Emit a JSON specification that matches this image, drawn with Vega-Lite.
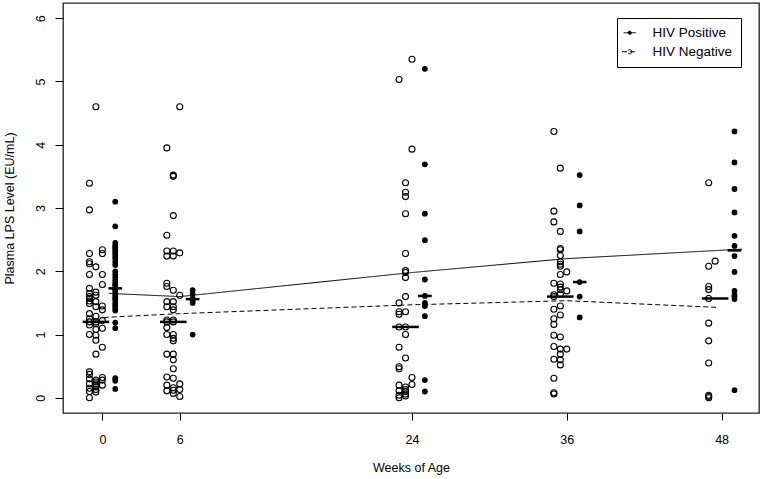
{
  "$schema": "https://vega.github.io/schema/vega-lite/v6.json",
  "width": 696,
  "height": 410,
  "autosize": {"type": "none"},
  "padding": {"left": 63, "top": 3, "right": 4, "bottom": 66},
  "config": {
    "font": "Liberation Sans",
    "view": {"stroke": "#222", "strokeWidth": 1.3},
    "axis": {"grid": false, "domain": false, "tickColor": "#000", "tickWidth": 1, "labelColor": "#000", "titleColor": "#000", "labelFontSize": 12.5, "titleFontSize": 12.5, "titleFontWeight": "normal", "labelFont": "Liberation Sans", "titleFont": "Liberation Sans"}
  },
  "datasets": {
    "pts": [
      {"x": -1, "y": 3.39, "g": "HIV Negative"}, {"x": -1, "y": 2.97, "g": "HIV Negative"}, {"x": -1, "y": 2.28, "g": "HIV Negative"}, {"x": -1, "y": 2.15, "g": "HIV Negative"}, {"x": -1, "y": 2.12, "g": "HIV Negative"}, {"x": -1, "y": 1.95, "g": "HIV Negative"}, {"x": -1, "y": 1.73, "g": "HIV Negative"}, {"x": -1, "y": 1.65, "g": "HIV Negative"}, {"x": -1, "y": 1.6, "g": "HIV Negative"}, {"x": -1, "y": 1.57, "g": "HIV Negative"}, {"x": -1, "y": 1.53, "g": "HIV Negative"}, {"x": -1, "y": 1.49, "g": "HIV Negative"}, {"x": -1, "y": 1.33, "g": "HIV Negative"}, {"x": -1, "y": 1.25, "g": "HIV Negative"}, {"x": -1, "y": 1.2, "g": "HIV Negative"}, {"x": -1, "y": 1.15, "g": "HIV Negative"}, {"x": -1, "y": 1.0, "g": "HIV Negative"}, {"x": -1, "y": 0.41, "g": "HIV Negative"}, {"x": -1, "y": 0.37, "g": "HIV Negative"}, {"x": -1, "y": 0.3, "g": "HIV Negative"}, {"x": -1, "y": 0.22, "g": "HIV Negative"}, {"x": -1, "y": 0.15, "g": "HIV Negative"}, {"x": -1, "y": 0.1, "g": "HIV Negative"}, {"x": -1, "y": 0.0, "g": "HIV Negative"},
      {"x": -0.5, "y": 4.6, "g": "HIV Negative"}, {"x": -0.5, "y": 2.07, "g": "HIV Negative"}, {"x": -0.5, "y": 1.67, "g": "HIV Negative"}, {"x": -0.5, "y": 1.62, "g": "HIV Negative"}, {"x": -0.5, "y": 1.52, "g": "HIV Negative"}, {"x": -0.5, "y": 1.44, "g": "HIV Negative"}, {"x": -0.5, "y": 1.29, "g": "HIV Negative"}, {"x": -0.5, "y": 1.2, "g": "HIV Negative"}, {"x": -0.5, "y": 1.17, "g": "HIV Negative"}, {"x": -0.5, "y": 1.08, "g": "HIV Negative"}, {"x": -0.5, "y": 0.99, "g": "HIV Negative"}, {"x": -0.5, "y": 0.91, "g": "HIV Negative"}, {"x": -0.5, "y": 0.69, "g": "HIV Negative"}, {"x": -0.5, "y": 0.28, "g": "HIV Negative"}, {"x": -0.5, "y": 0.25, "g": "HIV Negative"}, {"x": -0.5, "y": 0.22, "g": "HIV Negative"}, {"x": -0.5, "y": 0.19, "g": "HIV Negative"}, {"x": -0.5, "y": 0.17, "g": "HIV Negative"}, {"x": -0.5, "y": 0.13, "g": "HIV Negative"}, {"x": -0.5, "y": 0.09, "g": "HIV Negative"},
      {"x": 0, "y": 2.34, "g": "HIV Negative"}, {"x": 0, "y": 2.28, "g": "HIV Negative"}, {"x": 0, "y": 1.95, "g": "HIV Negative"}, {"x": 0, "y": 1.79, "g": "HIV Negative"}, {"x": 0, "y": 1.45, "g": "HIV Negative"}, {"x": 0, "y": 1.39, "g": "HIV Negative"}, {"x": 0, "y": 1.22, "g": "HIV Negative"}, {"x": 0, "y": 1.1, "g": "HIV Negative"}, {"x": 0, "y": 0.8, "g": "HIV Negative"}, {"x": 0, "y": 0.32, "g": "HIV Negative"}, {"x": 0, "y": 0.28, "g": "HIV Negative"}, {"x": 0, "y": 0.2, "g": "HIV Negative"},
      {"x": 5, "y": 3.95, "g": "HIV Negative"}, {"x": 5, "y": 2.57, "g": "HIV Negative"}, {"x": 5, "y": 2.32, "g": "HIV Negative"}, {"x": 5, "y": 2.24, "g": "HIV Negative"}, {"x": 5, "y": 1.81, "g": "HIV Negative"}, {"x": 5, "y": 1.76, "g": "HIV Negative"}, {"x": 5, "y": 1.52, "g": "HIV Negative"}, {"x": 5, "y": 1.44, "g": "HIV Negative"}, {"x": 5, "y": 1.23, "g": "HIV Negative"}, {"x": 5, "y": 1.2, "g": "HIV Negative"}, {"x": 5, "y": 1.11, "g": "HIV Negative"}, {"x": 5, "y": 1.0, "g": "HIV Negative"}, {"x": 5, "y": 0.69, "g": "HIV Negative"}, {"x": 5, "y": 0.33, "g": "HIV Negative"}, {"x": 5, "y": 0.2, "g": "HIV Negative"}, {"x": 5, "y": 0.11, "g": "HIV Negative"},
      {"x": 5.5, "y": 3.52, "g": "HIV Negative"}, {"x": 5.5, "y": 3.5, "g": "HIV Negative"}, {"x": 5.5, "y": 2.88, "g": "HIV Negative"}, {"x": 5.5, "y": 2.32, "g": "HIV Negative"}, {"x": 5.5, "y": 2.24, "g": "HIV Negative"}, {"x": 5.5, "y": 1.7, "g": "HIV Negative"}, {"x": 5.5, "y": 1.52, "g": "HIV Negative"}, {"x": 5.5, "y": 1.44, "g": "HIV Negative"}, {"x": 5.5, "y": 1.39, "g": "HIV Negative"}, {"x": 5.5, "y": 1.23, "g": "HIV Negative"}, {"x": 5.5, "y": 1.2, "g": "HIV Negative"}, {"x": 5.5, "y": 1.0, "g": "HIV Negative"}, {"x": 5.5, "y": 0.94, "g": "HIV Negative"}, {"x": 5.5, "y": 0.9, "g": "HIV Negative"}, {"x": 5.5, "y": 0.69, "g": "HIV Negative"}, {"x": 5.5, "y": 0.6, "g": "HIV Negative"}, {"x": 5.5, "y": 0.46, "g": "HIV Negative"}, {"x": 5.5, "y": 0.31, "g": "HIV Negative"}, {"x": 5.5, "y": 0.16, "g": "HIV Negative"}, {"x": 5.5, "y": 0.12, "g": "HIV Negative"}, {"x": 5.5, "y": 0.07, "g": "HIV Negative"},
      {"x": 6, "y": 4.6, "g": "HIV Negative"}, {"x": 6, "y": 2.29, "g": "HIV Negative"}, {"x": 6, "y": 1.62, "g": "HIV Negative"}, {"x": 6, "y": 0.22, "g": "HIV Negative"}, {"x": 6, "y": 0.13, "g": "HIV Negative"}, {"x": 6, "y": 0.02, "g": "HIV Negative"},
      {"x": 23, "y": 5.03, "g": "HIV Negative"}, {"x": 23, "y": 1.5, "g": "HIV Negative"}, {"x": 23, "y": 1.36, "g": "HIV Negative"}, {"x": 23, "y": 1.32, "g": "HIV Negative"}, {"x": 23, "y": 1.12, "g": "HIV Negative"}, {"x": 23, "y": 0.8, "g": "HIV Negative"}, {"x": 23, "y": 0.49, "g": "HIV Negative"}, {"x": 23, "y": 0.46, "g": "HIV Negative"}, {"x": 23, "y": 0.2, "g": "HIV Negative"}, {"x": 23, "y": 0.11, "g": "HIV Negative"}, {"x": 23, "y": 0.04, "g": "HIV Negative"}, {"x": 23, "y": 0.0, "g": "HIV Negative"},
      {"x": 23.5, "y": 3.4, "g": "HIV Negative"}, {"x": 23.5, "y": 3.25, "g": "HIV Negative"}, {"x": 23.5, "y": 3.18, "g": "HIV Negative"}, {"x": 23.5, "y": 2.91, "g": "HIV Negative"}, {"x": 23.5, "y": 2.28, "g": "HIV Negative"}, {"x": 23.5, "y": 2.01, "g": "HIV Negative"}, {"x": 23.5, "y": 1.98, "g": "HIV Negative"}, {"x": 23.5, "y": 1.9, "g": "HIV Negative"}, {"x": 23.5, "y": 1.6, "g": "HIV Negative"}, {"x": 23.5, "y": 1.36, "g": "HIV Negative"}, {"x": 23.5, "y": 1.12, "g": "HIV Negative"}, {"x": 23.5, "y": 1.0, "g": "HIV Negative"}, {"x": 23.5, "y": 0.63, "g": "HIV Negative"}, {"x": 23.5, "y": 0.17, "g": "HIV Negative"}, {"x": 23.5, "y": 0.13, "g": "HIV Negative"}, {"x": 23.5, "y": 0.1, "g": "HIV Negative"}, {"x": 23.5, "y": 0.06, "g": "HIV Negative"}, {"x": 23.5, "y": 0.03, "g": "HIV Negative"},
      {"x": 24, "y": 5.35, "g": "HIV Negative"}, {"x": 24, "y": 3.93, "g": "HIV Negative"}, {"x": 24, "y": 0.32, "g": "HIV Negative"}, {"x": 24, "y": 0.21, "g": "HIV Negative"},
      {"x": 35, "y": 4.21, "g": "HIV Negative"}, {"x": 35, "y": 2.95, "g": "HIV Negative"}, {"x": 35, "y": 2.78, "g": "HIV Negative"}, {"x": 35, "y": 1.81, "g": "HIV Negative"}, {"x": 35, "y": 1.63, "g": "HIV Negative"}, {"x": 35, "y": 1.6, "g": "HIV Negative"}, {"x": 35, "y": 1.4, "g": "HIV Negative"}, {"x": 35, "y": 1.25, "g": "HIV Negative"}, {"x": 35, "y": 1.16, "g": "HIV Negative"}, {"x": 35, "y": 0.99, "g": "HIV Negative"}, {"x": 35, "y": 0.81, "g": "HIV Negative"}, {"x": 35, "y": 0.61, "g": "HIV Negative"}, {"x": 35, "y": 0.31, "g": "HIV Negative"}, {"x": 35, "y": 0.08, "g": "HIV Negative"}, {"x": 35, "y": 0.06, "g": "HIV Negative"},
      {"x": 35.5, "y": 3.63, "g": "HIV Negative"}, {"x": 35.5, "y": 2.63, "g": "HIV Negative"}, {"x": 35.5, "y": 2.36, "g": "HIV Negative"}, {"x": 35.5, "y": 2.34, "g": "HIV Negative"}, {"x": 35.5, "y": 2.25, "g": "HIV Negative"}, {"x": 35.5, "y": 2.15, "g": "HIV Negative"}, {"x": 35.5, "y": 2.11, "g": "HIV Negative"}, {"x": 35.5, "y": 2.08, "g": "HIV Negative"}, {"x": 35.5, "y": 1.95, "g": "HIV Negative"}, {"x": 35.5, "y": 1.8, "g": "HIV Negative"}, {"x": 35.5, "y": 1.75, "g": "HIV Negative"}, {"x": 35.5, "y": 1.71, "g": "HIV Negative"}, {"x": 35.5, "y": 1.64, "g": "HIV Negative"}, {"x": 35.5, "y": 1.45, "g": "HIV Negative"}, {"x": 35.5, "y": 1.31, "g": "HIV Negative"}, {"x": 35.5, "y": 0.96, "g": "HIV Negative"}, {"x": 35.5, "y": 0.77, "g": "HIV Negative"}, {"x": 35.5, "y": 0.69, "g": "HIV Negative"}, {"x": 35.5, "y": 0.6, "g": "HIV Negative"}, {"x": 35.5, "y": 0.52, "g": "HIV Negative"},
      {"x": 36, "y": 1.99, "g": "HIV Negative"}, {"x": 36, "y": 1.69, "g": "HIV Negative"}, {"x": 36, "y": 0.77, "g": "HIV Negative"},
      {"x": 47, "y": 3.4, "g": "HIV Negative"}, {"x": 47, "y": 2.08, "g": "HIV Negative"}, {"x": 47, "y": 1.76, "g": "HIV Negative"}, {"x": 47, "y": 1.71, "g": "HIV Negative"}, {"x": 47, "y": 1.57, "g": "HIV Negative"}, {"x": 47, "y": 1.18, "g": "HIV Negative"}, {"x": 47, "y": 0.9, "g": "HIV Negative"}, {"x": 47, "y": 0.55, "g": "HIV Negative"}, {"x": 47, "y": 0.04, "g": "HIV Negative"}, {"x": 47, "y": 0.02, "g": "HIV Negative"}, {"x": 47, "y": 0.0, "g": "HIV Negative"},
      {"x": 47.5, "y": 2.16, "g": "HIV Negative"},
      {"x": 1, "y": 3.1, "g": "HIV Positive"}, {"x": 1, "y": 2.71, "g": "HIV Positive"}, {"x": 1, "y": 2.45, "g": "HIV Positive"}, {"x": 1, "y": 2.41, "g": "HIV Positive"}, {"x": 1, "y": 2.38, "g": "HIV Positive"}, {"x": 1, "y": 2.35, "g": "HIV Positive"}, {"x": 1, "y": 2.31, "g": "HIV Positive"}, {"x": 1, "y": 2.28, "g": "HIV Positive"}, {"x": 1, "y": 2.24, "g": "HIV Positive"}, {"x": 1, "y": 2.2, "g": "HIV Positive"}, {"x": 1, "y": 2.15, "g": "HIV Positive"}, {"x": 1, "y": 2.1, "g": "HIV Positive"}, {"x": 1, "y": 2.0, "g": "HIV Positive"}, {"x": 1, "y": 1.95, "g": "HIV Positive"}, {"x": 1, "y": 1.9, "g": "HIV Positive"}, {"x": 1, "y": 1.85, "g": "HIV Positive"}, {"x": 1, "y": 1.8, "g": "HIV Positive"}, {"x": 1, "y": 1.78, "g": "HIV Positive"}, {"x": 1, "y": 1.73, "g": "HIV Positive"}, {"x": 1, "y": 1.7, "g": "HIV Positive"}, {"x": 1, "y": 1.66, "g": "HIV Positive"}, {"x": 1, "y": 1.62, "g": "HIV Positive"}, {"x": 1, "y": 1.58, "g": "HIV Positive"}, {"x": 1, "y": 1.55, "g": "HIV Positive"}, {"x": 1, "y": 1.5, "g": "HIV Positive"}, {"x": 1, "y": 1.46, "g": "HIV Positive"}, {"x": 1, "y": 1.42, "g": "HIV Positive"}, {"x": 1, "y": 1.38, "g": "HIV Positive"}, {"x": 1, "y": 1.19, "g": "HIV Positive"}, {"x": 1, "y": 1.1, "g": "HIV Positive"}, {"x": 1, "y": 0.31, "g": "HIV Positive"}, {"x": 1, "y": 0.27, "g": "HIV Positive"}, {"x": 1, "y": 0.14, "g": "HIV Positive"},
      {"x": 7, "y": 1.7, "g": "HIV Positive"}, {"x": 7, "y": 1.64, "g": "HIV Positive"}, {"x": 7, "y": 1.57, "g": "HIV Positive"}, {"x": 7, "y": 1.53, "g": "HIV Positive"}, {"x": 7, "y": 1.5, "g": "HIV Positive"}, {"x": 7, "y": 1.0, "g": "HIV Positive"},
      {"x": 25, "y": 5.2, "g": "HIV Positive"}, {"x": 25, "y": 3.69, "g": "HIV Positive"}, {"x": 25, "y": 2.91, "g": "HIV Positive"}, {"x": 25, "y": 2.49, "g": "HIV Positive"}, {"x": 25, "y": 1.87, "g": "HIV Positive"}, {"x": 25, "y": 1.61, "g": "HIV Positive"}, {"x": 25, "y": 1.5, "g": "HIV Positive"}, {"x": 25, "y": 1.45, "g": "HIV Positive"}, {"x": 25, "y": 1.29, "g": "HIV Positive"}, {"x": 25, "y": 0.28, "g": "HIV Positive"}, {"x": 25, "y": 0.1, "g": "HIV Positive"},
      {"x": 37, "y": 3.52, "g": "HIV Positive"}, {"x": 37, "y": 3.04, "g": "HIV Positive"}, {"x": 37, "y": 2.63, "g": "HIV Positive"}, {"x": 37, "y": 1.83, "g": "HIV Positive"}, {"x": 37, "y": 1.6, "g": "HIV Positive"}, {"x": 37, "y": 1.27, "g": "HIV Positive"},
      {"x": 49, "y": 4.21, "g": "HIV Positive"}, {"x": 49, "y": 3.72, "g": "HIV Positive"}, {"x": 49, "y": 3.3, "g": "HIV Positive"}, {"x": 49, "y": 2.93, "g": "HIV Positive"}, {"x": 49, "y": 2.56, "g": "HIV Positive"}, {"x": 49, "y": 2.4, "g": "HIV Positive"}, {"x": 49, "y": 2.24, "g": "HIV Positive"}, {"x": 49, "y": 1.99, "g": "HIV Positive"}, {"x": 49, "y": 1.69, "g": "HIV Positive"}, {"x": 49, "y": 1.62, "g": "HIV Positive"}, {"x": 49, "y": 1.6, "g": "HIV Positive"}, {"x": 49, "y": 1.56, "g": "HIV Positive"}, {"x": 49, "y": 0.12, "g": "HIV Positive"}
    ],
    "med": [
      {"x": -1.53, "x2": 0.53, "y": 1.2, "g": "HIV Negative"},
      {"x": 4.47, "x2": 6.53, "y": 1.2, "g": "HIV Negative"},
      {"x": 22.47, "x2": 24.53, "y": 1.12, "g": "HIV Negative"},
      {"x": 34.47, "x2": 36.53, "y": 1.6, "g": "HIV Negative"},
      {"x": 46.47, "x2": 48.53, "y": 1.57, "g": "HIV Negative"},
      {"x": 0.47, "x2": 1.53, "y": 1.73, "g": "HIV Positive"},
      {"x": 6.47, "x2": 7.53, "y": 1.56, "g": "HIV Positive"},
      {"x": 24.47, "x2": 25.53, "y": 1.61, "g": "HIV Positive"},
      {"x": 36.47, "x2": 37.53, "y": 1.83, "g": "HIV Positive"},
      {"x": 48.47, "x2": 49.53, "y": 2.33, "g": "HIV Positive"}
    ],
    "fit": [
      {"x": 0.5, "y": 1.65, "g": "HIV Positive"},
      {"x": 6, "y": 1.6, "g": "HIV Positive"},
      {"x": 24, "y": 1.98, "g": "HIV Positive"},
      {"x": 36, "y": 2.2, "g": "HIV Positive"},
      {"x": 49.6, "y": 2.35, "g": "HIV Positive"},
      {"x": 0.1, "y": 1.27, "g": "HIV Negative"},
      {"x": 6, "y": 1.33, "g": "HIV Negative"},
      {"x": 24, "y": 1.47, "g": "HIV Negative"},
      {"x": 36, "y": 1.535, "g": "HIV Negative"},
      {"x": 47.6, "y": 1.43, "g": "HIV Negative"}
    ]
  },
  "encoding": {
    "x": {"field": "x", "type": "quantitative", "scale": {"domain": [-3.05, 50.9], "nice": false, "zero": false},
          "axis": {"title": "Weeks of Age", "values": [0, 6, 24, 36, 48], "tickSize": 7, "labelPadding": 13, "titlePadding": 16, "labelAngle": 0}},
    "y": {"field": "y", "type": "quantitative", "scale": {"domain": [-0.24, 6.24], "nice": false, "zero": false},
          "axis": {"title": "Plasma LPS Level (EU/mL)", "values": [0, 1, 2, 3, 4, 5, 6], "tickSize": 8, "labelAngle": 270, "labelAlign": "center", "labelBaseline": "bottom", "labelPadding": 8, "titlePadding": 18}}
  },
  "layer": [
    {
      "data": {"name": "fit"},
      "mark": {"type": "line", "stroke": "#000", "strokeWidth": 1},
      "encoding": {
        "strokeDash": {"field": "g", "type": "nominal",
          "scale": {"domain": ["HIV Positive", "HIV Negative"], "range": [[1, 0], [5, 3]]},
          "legend": {"title": null, "orient": "none", "legendX": 554, "legendY": 15, "symbolType": "M-2.6,0H2.6M0.7,0A0.7,0.7 0 1,1 -0.7,0A0.7,0.7 0 1,1 0.7,0", "symbolSize": 100, "symbolStrokeColor": "#000", "symbolStrokeWidth": 1, "symbolOffset": -2, "labelOffset": 16, "labelFontSize": 13.5, "labelColor": "#000", "padding": 8, "rowPadding": 4, "strokeColor": "#000", "fillColor": "#fff", "cornerRadius": 0}}
      }
    },
    {
      "data": {"name": "med"},
      "mark": {"type": "rule", "stroke": "#000", "strokeWidth": 2.5},
      "encoding": {"x2": {"field": "x2"}}
    },
    {
      "data": {"name": "pts"},
      "mark": {"type": "point", "shape": "circle", "stroke": "#000", "strokeWidth": 1.1, "opacity": 1},
      "encoding": {
        "fill": {"field": "g", "type": "nominal",
          "scale": {"domain": ["HIV Positive", "HIV Negative"], "range": ["#000", "transparent"]},
          "legend": {"title": null, "orient": "none", "legendX": 554, "legendY": 15, "symbolType": "M-2.6,0H2.6M0.7,0A0.7,0.7 0 1,1 -0.7,0A0.7,0.7 0 1,1 0.7,0", "symbolSize": 100, "symbolStrokeColor": "#000", "symbolStrokeWidth": 1, "symbolOffset": -2, "labelOffset": 16, "labelFontSize": 13.5, "labelColor": "#000", "padding": 8, "rowPadding": 4, "strokeColor": "#000", "fillColor": "#fff", "cornerRadius": 0}},
        "size": {"field": "g", "type": "nominal", "scale": {"domain": ["HIV Positive", "HIV Negative"], "range": [22, 36]}, "legend": null}
      }
    }
  ]
}
